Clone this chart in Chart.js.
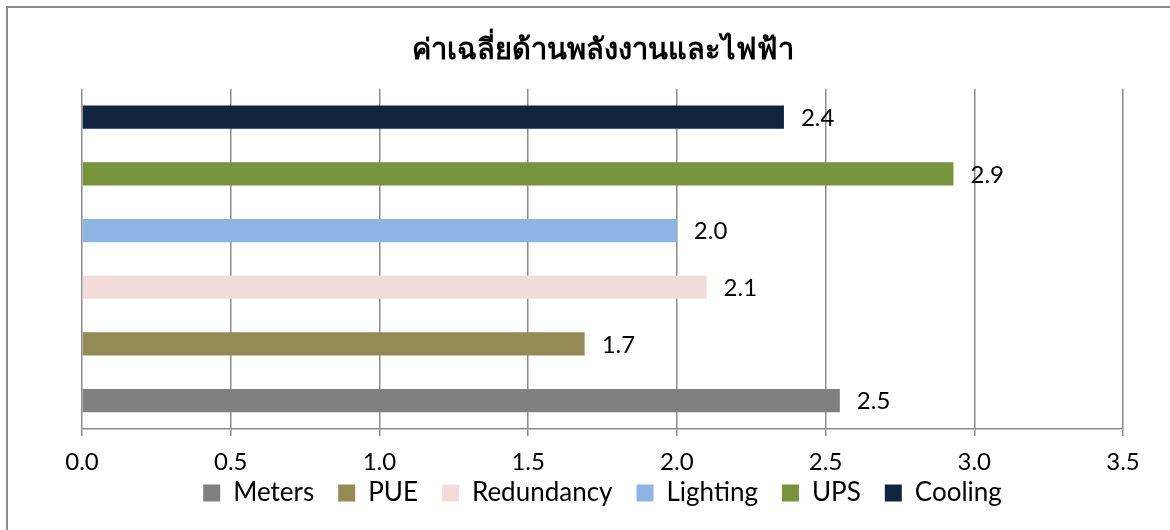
<!DOCTYPE html>
<html>
<head>
<meta charset="utf-8">
<script src="https://cdn.jsdelivr.net/npm/chart.js@4"></script>
<style>
  html, body { margin: 0; padding: 0; background: #fff; }
  #wrap { width: 1170px; height: 530px; }
</style>
</head>
<body>
<div id="wrap"><canvas id="chart" width="1170" height="530"></canvas></div>
<script>
const titleText = "ค่าเฉลี่ยด้านพลังงานและไฟฟ้า";
const seriesNames = ["Meters", "PUE", "Redundancy", "Lighting", "UPS", "Cooling"];
const seriesValues = [2.548, 1.69, 2.1, 2.0, 2.93, 2.36];
const seriesColors = ["#808080", "#948a54", "#f2dcdb", "#8db4e2", "#77933c", "#10243f"];
const xTicks = [0, 0.5, 1, 1.5, 2, 2.5, 3, 3.5];

const fontFamily = "Lato, 'Open Sans', 'Noto Sans', sans-serif";

const frame = {
  id: "frame",
  beforeDraw(chart) {
    const ctx = chart.ctx;
    ctx.save();
    ctx.fillStyle = "#fff";
    ctx.fillRect(0, 0, chart.width, chart.height);
    ctx.strokeStyle = "#8c8c8c";
    ctx.lineWidth = 2;
    ctx.strokeRect(7, 7, chart.width + 20, chart.height + 20);
    ctx.restore();
  },
  afterLayout(chart) {
    // tick labels hang below the squeezed x box, don't clip them
    chart.scales.x.bottom = chart.height;
  }
};

const valueLabels = {
  id: "valueLabels",
  afterDatasetsDraw(chart) {
    const ctx = chart.ctx;
    ctx.save();
    ctx.font = "24px " + fontFamily;
    ctx.fillStyle = "#000";
    ctx.textBaseline = "middle";
    chart.data.datasets.forEach((ds, i) => {
      const bar = chart.getDatasetMeta(i).data[0];
      ctx.fillText(ds.data[0].toFixed(1), bar.x + 17, bar.y + 1);
    });
    ctx.restore();
  }
};

// chart.js stacks grouped horizontal bars top-down, Excel bottom-up
const datasets = seriesNames.map((name, i) => ({
  label: name,
  data: [seriesValues[i]],
  backgroundColor: seriesColors[i],
  borderWidth: 0,
  categoryPercentage: 1,
  barPercentage: 0.41
})).reverse();

new Chart(document.getElementById("chart"), {
  type: "bar",
  data: { labels: [""], datasets },
  plugins: [frame, valueLabels],
  options: {
    indexAxis: "y",
    responsive: false,
    animation: false,
    layout: { padding: { left: 82, right: 47, top: 0, bottom: 14 } },
    plugins: {
      title: {
        display: true,
        text: titleText,
        color: "#000",
        font: { family: fontFamily, size: 29, weight: "bold" },
        padding: { top: 32, bottom: 22 }
      },
      legend: {
        position: "bottom",
        reverse: true,
        labels: {
          color: "#000",
          font: { family: fontFamily, size: 26 },
          boxWidth: 17,
          boxHeight: 17,
          padding: 24
        }
      },
      tooltip: { enabled: false }
    },
    scales: {
      x: {
        min: 0,
        max: 3.5,
        afterBuildTicks(scale) {
          scale.ticks = xTicks.map(v => ({ value: v }));
        },
        afterFit(scale) {
          scale.height = 27;
        },
        ticks: {
          color: "#000",
          font: { family: fontFamily, size: 24 },
          padding: 12,
          callback: v => v.toFixed(1)
        },
        grid: { color: "#8c8c8c", lineWidth: 1.5, tickLength: 7 },
        border: { color: "#8c8c8c", width: 1.5 }
      },
      y: {
        display: false
      }
    }
  }
});
</script>
</body>
</html>
